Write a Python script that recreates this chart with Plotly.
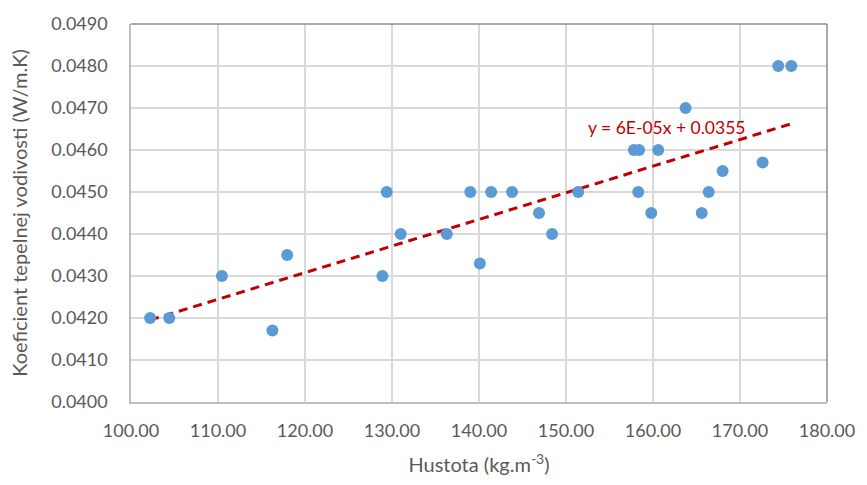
import numpy as np
import plotly.graph_objects as go

# Data
density = [102.2, 104.4, 110.45, 116.25, 117.95, 128.9, 129.4, 131.0, 136.3, 139.0,
           140.1, 141.4, 143.8, 146.9, 148.4, 151.4, 157.8, 158.4, 160.6, 163.75,
           158.3, 159.8, 165.6, 166.4, 168.0, 172.6, 174.4, 175.9]
conductivity = [0.0420, 0.0420, 0.0430, 0.0417, 0.0435, 0.0430, 0.0450, 0.0440, 0.0440, 0.0450,
                0.0433, 0.0450, 0.0450, 0.0445, 0.0440, 0.0450, 0.0460, 0.0460, 0.0460, 0.0470,
                0.0450, 0.0445, 0.0445, 0.0450, 0.0455, 0.0457, 0.0480, 0.0480]
trend_label = "y = 6E-05x + 0.0355"
x_title = "Hustota (kg.m<sup>-3</sup>)"
y_title = "Koeficient tepelnej vodivosti (W/m.K)"

# Linear regression trendline over the data range
slope, intercept = np.polyfit(density, conductivity, 1)
tx = [min(density), max(density)]
ty = [slope * v + intercept for v in tx]

FONT = "Lato"
GREY = "#595959"

fig = go.Figure()
fig.add_trace(go.Scatter(
    x=tx, y=ty, mode="lines",
    line=dict(color="#C00000", width=3, dash="9px,6px"),
    hoverinfo="skip", showlegend=False,
))
fig.add_trace(go.Scatter(
    x=density, y=conductivity, mode="markers",
    marker=dict(color="#5B9BD5", size=12, line=dict(width=0)),
    showlegend=False,
))

fig.add_annotation(
    x=161.6, y=0.04654, text=trend_label, showarrow=False,
    font=dict(family=FONT, size=17.5, color="#C00000"),
    xanchor="center", yanchor="middle",
)

fig.update_layout(
    width=867, height=485,
    margin=dict(l=131, r=32, t=18, b=83),
    paper_bgcolor="white", plot_bgcolor="white",
    font=dict(family=FONT, color=GREY, size=18),
    shapes=[
        dict(type="line", xref="paper", yref="paper", x0=0, x1=1, y0=1, y1=1,
             line=dict(color="#8C8C8C", width=1.5)),
        dict(type="line", xref="paper", yref="paper", x0=1, x1=1, y0=0, y1=1,
             line=dict(color="#8C8C8C", width=1.5)),
    ],
)
fig.update_xaxes(
    range=[100, 180], dtick=10, tick0=100, tickformat=".2f",
    showgrid=True, gridcolor="#D9D9D9", gridwidth=1.5,
    showline=True, linecolor="#BFBFBF", linewidth=1.5,
    zeroline=False, ticks="", ticklabelstandoff=12,
    tickfont=dict(family=FONT, size=18, color=GREY),
    title=dict(text=x_title, font=dict(family=FONT, size=20, color=GREY), standoff=18),
)
fig.update_yaxes(
    range=[0.0400, 0.0490], dtick=0.001, tick0=0.04, tickformat=".4f",
    showgrid=True, gridcolor="#D9D9D9", gridwidth=1.5,
    showline=True, linecolor="#BFBFBF", linewidth=1.5,
    zeroline=False, ticks="", ticklabelstandoff=18,
    tickfont=dict(family=FONT, size=18, color=GREY),
    title=dict(text=y_title, font=dict(family=FONT, size=20, color=GREY), standoff=18),
)

fig.write_html("out.html")
